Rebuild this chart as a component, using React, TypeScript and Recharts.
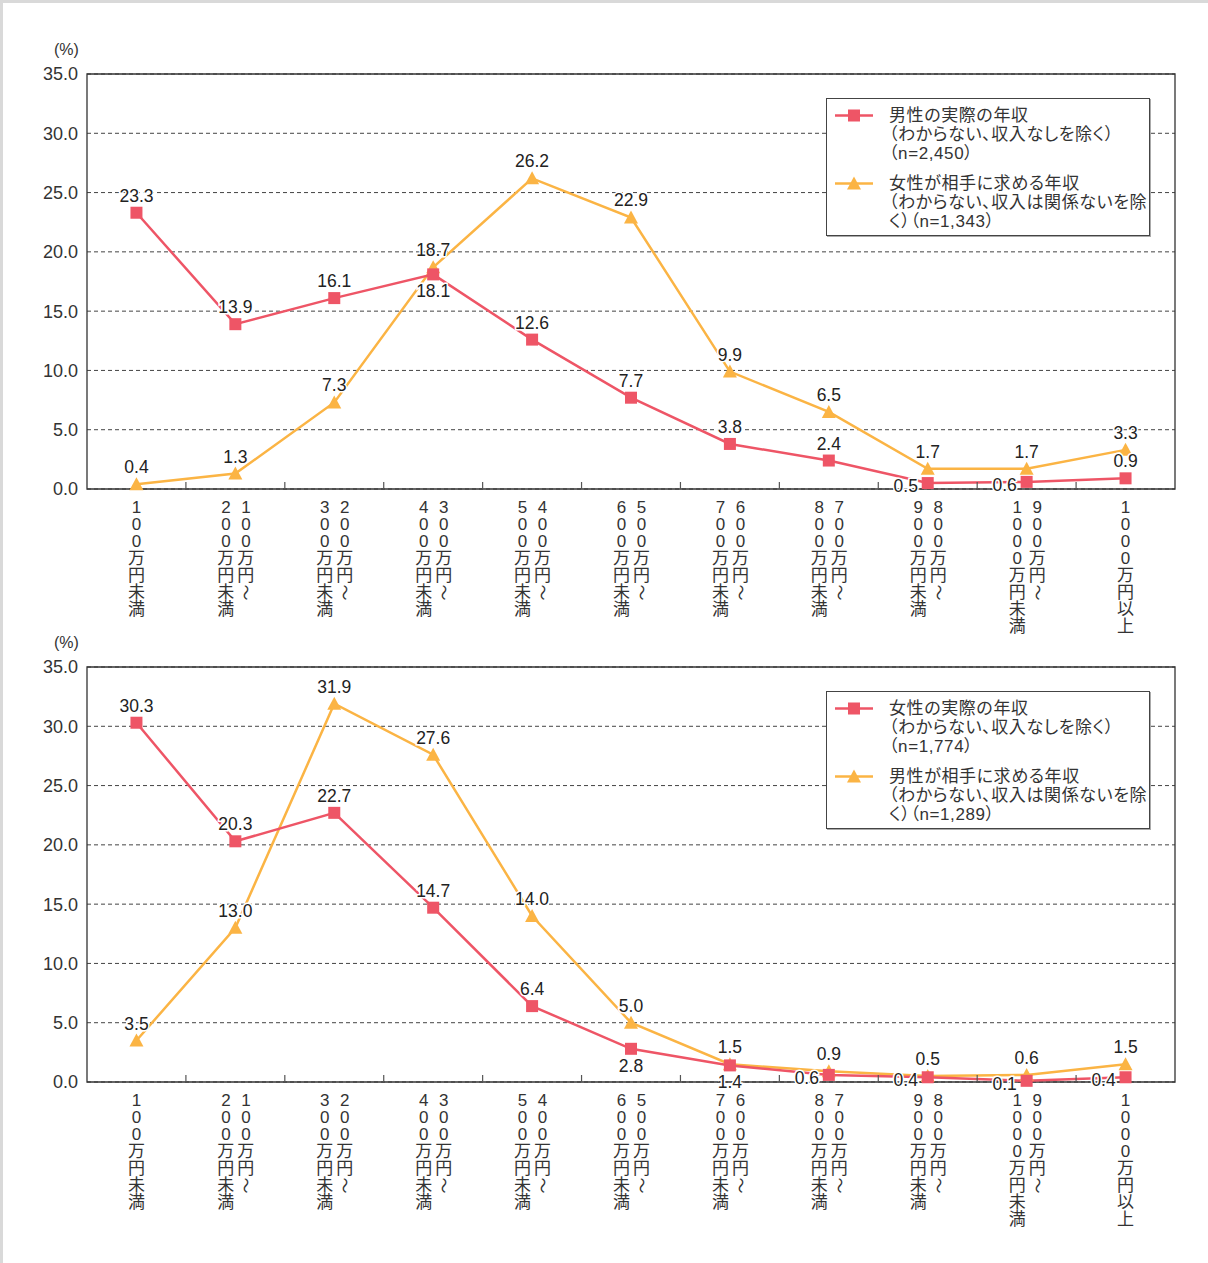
import React from 'react';
import {
  ComposedChart,
  Line,
  XAxis,
  YAxis,
  CartesianGrid,
  ReferenceArea,
  LabelList,
  Legend,
} from 'recharts';

const FONT = "'Liberation Sans', 'Noto Sans CJK JP', sans-serif";
const RED = '#EE5566';
const ORANGE = '#FBB444';

const categories = [
  '100万円未満',
  '100万円～200万円未満',
  '200万円～300万円未満',
  '300万円～400万円未満',
  '400万円～500万円未満',
  '500万円～600万円未満',
  '600万円～700万円未満',
  '700万円～800万円未満',
  '800万円～900万円未満',
  '900万円～1000万円未満',
  '1000万円以上',
];

const yTicks = [0, 5, 10, 15, 20, 25, 30, 35];

// Top chart
const maleActual = [23.3, 13.9, 16.1, 18.1, 12.6, 7.7, 3.8, 2.4, 0.5, 0.6, 0.9];
const femaleWanted = [0.4, 1.3, 7.3, 18.7, 26.2, 22.9, 9.9, 6.5, 1.7, 1.7, 3.3];
// Bottom chart
const femaleActual = [30.3, 20.3, 22.7, 14.7, 6.4, 2.8, 1.4, 0.6, 0.4, 0.1, 0.4];
const maleWanted = [3.5, 13.0, 31.9, 27.6, 14.0, 5.0, 1.5, 0.9, 0.5, 0.6, 1.5];

// label placement: a = above, b = below, l = left
const topRedPlace = ['a', 'a', 'a', 'b', 'a', 'a', 'a', 'a', 'l', 'l', 'a'];
const topOrangePlace = ['a', 'a', 'a', 'a', 'a', 'a', 'a', 'a', 'a', 'a', 'a'];
const bottomRedPlace = ['a', 'a', 'a', 'a', 'a', 'b', 'b', 'l', 'l', 'l', 'l'];
const bottomOrangePlace = ['a', 'a', 'a', 'a', 'a', 'a', 'a', 'a', 'a', 'a', 'a'];

const topLegendRed = ['男性の実際の年収', '（わからない、収入なしを除く）', '（n=2,450）'];
const topLegendOrange = ['女性が相手に求める年収', '（わからない、収入は関係ないを除', 'く）（n=1,343）'];
const bottomLegendRed = ['女性の実際の年収', '（わからない、収入なしを除く）', '（n=1,774）'];
const bottomLegendOrange = ['男性が相手に求める年収', '（わからない、収入は関係ないを除', 'く）（n=1,289）'];

const buildRows = (red: number[], orange: number[]) =>
  categories.map((c, i) => ({ cat: c, red: red[i], orange: orange[i] }));

const Column = ({ text, x, y }: { text: string; x: number; y: number }) => (
  <g>
    {Array.from(text).map((ch, i) => {
      const cy = y + 18 + i * 17.1;
      if (ch === '～') {
        return (
          <text
            key={i}
            x={x}
            y={cy}
            textAnchor="middle"
            dominantBaseline="central"
            transform={`rotate(90 ${x} ${cy})`}
            fontSize={16}
            fontFamily={FONT}
            fill="#333"
          >
            {ch}
          </text>
        );
      }
      return (
        <text
          key={i}
          x={x}
          y={cy}
          textAnchor="middle"
          dominantBaseline="central"
          fontSize={17}
          fontFamily={FONT}
          fill="#333"
        >
          {ch}
        </text>
      );
    })}
  </g>
);

const XTick = (props: any) => {
  const { x, y, payload, index } = props;
  const label: string = String(payload.value);
  const half = payload.offset || 0;
  const parts = label.split('～');
  return (
    <g>
      {index < categories.length - 1 && half > 0 ? (
        <line x1={x + half} x2={x + half} y1={y - 7} y2={y} stroke="#555" strokeWidth={1.2} />
      ) : null}
      {parts.length > 1 ? (
        <>
          <Column text={parts[0] + '～'} x={x + 10.5} y={y} />
          <Column text={parts[1]} x={x - 9.5} y={y} />
        </>
      ) : (
        <Column text={label} x={x} y={y} />
      )}
    </g>
  );
};

const makeLabel = (place: string[]) => (props: any) => {
  const vb = props.viewBox || {};
  const x = props.x ?? vb.x;
  const y = props.y ?? vb.y;
  const idx = props.index;
  if (x == null || y == null || props.value == null) return null;
  const p = place[idx] || 'a';
  let tx = x;
  let ty = y - 17;
  if (p === 'b') ty = y + 17;
  if (p === 'l') {
    tx = x - 22;
    ty = y + 3;
  }
  return (
    <text
      key={`lbl-${idx}`}
      x={tx}
      y={ty}
      textAnchor="middle"
      dominantBaseline="central"
      fontSize={17.5}
      fontFamily={FONT}
      fill="#222"
      stroke="#fff"
      strokeWidth={3}
      paintOrder="stroke"
    >
      {Number(props.value).toFixed(1)}
    </text>
  );
};

const squareDot = (props: any) => {
  const { cx, cy, index } = props;
  if (cx == null || cy == null) return <g key={`sq-${index}`} />;
  return <rect key={`sq-${index}`} x={cx - 6} y={cy - 6} width={12} height={12} fill={RED} />;
};

const triangleDot = (props: any) => {
  const { cx, cy, index } = props;
  if (cx == null || cy == null) return <g key={`tr-${index}`} />;
  return (
    <polygon
      key={`tr-${index}`}
      points={`${cx},${cy - 7} ${cx - 7},${cy + 6} ${cx + 7},${cy + 6}`}
      fill={ORANGE}
    />
  );
};

const LegendIcon = ({ kind }: { kind: 'sq' | 'tr' }) => (
  <svg width={38} height={19} style={{ display: 'block' }}>
    <line x1={0} x2={38} y1={9.5} y2={9.5} stroke={kind === 'sq' ? RED : ORANGE} strokeWidth={2.5} />
    {kind === 'sq' ? (
      <rect x={13} y={3.5} width={12} height={12} fill={RED} />
    ) : (
      <polygon points="19,2.5 12,15.5 26,15.5" fill={ORANGE} />
    )}
  </svg>
);

const LegendBox = ({ redLines, orangeLines }: { redLines: string[]; orangeLines: string[] }) => {
  const items = [
    { kind: 'sq' as const, lines: redLines },
    { kind: 'tr' as const, lines: orangeLines },
  ];
  return (
    <div
      style={{
        width: 324,
        height: 138,
        boxSizing: 'border-box',
        border: '1px solid #444',
        boxShadow: '1px 1px 0 #aaa',
        background: '#fff',
        fontFamily: FONT,
        fontSize: 17,
        fontFeatureSettings: '"palt"',
        letterSpacing: '0.6px',
        color: '#333',
        position: 'relative',
      }}
    >
      {items.map((it, i) => (
        <div key={i} style={{ position: 'absolute', left: 8, top: 7 + i * 68, display: 'flex' }}>
          <LegendIcon kind={it.kind} />
          <div style={{ marginLeft: 16, lineHeight: '19px', whiteSpace: 'nowrap' }}>
            {it.lines.map((l, j) => (
              <div key={j}>{l}</div>
            ))}
          </div>
        </div>
      ))}
    </div>
  );
};

const IncomeChart = ({
  red,
  orange,
  redPlace,
  orangePlace,
  redLegend,
  orangeLegend,
}: {
  red: number[];
  orange: number[];
  redPlace: string[];
  orangePlace: string[];
  redLegend: string[];
  orangeLegend: string[];
}) => {
  const rows = buildRows(red, orange);
  return (
    <div style={{ position: 'relative', width: 1208, height: 640 }}>
      <div
        style={{
          position: 'absolute',
          left: 54,
          top: 41,
          fontFamily: FONT,
          fontSize: 16,
          lineHeight: '18px',
          color: '#333',
          zIndex: 2,
        }}
      >
        (%)
      </div>
      <ComposedChart
        width={1208}
        height={640}
        data={rows}
        margin={{ top: 74, right: 33, bottom: 0, left: 0 }}
      >
        <CartesianGrid vertical={false} stroke="#444" strokeDasharray="4 3" strokeWidth={1} />
        <XAxis
          dataKey="cat"
          scale="band"
          height={151}
          interval={0}
          tickLine={false}
          axisLine={false}
          tickSize={0}
          tickMargin={0}
          tick={(p: any) => <XTick {...p} />}
        />
        <YAxis
          domain={[0, 35]}
          ticks={yTicks}
          interval={0}
          width={87}
          tickLine={false}
          axisLine={false}
          tickSize={0}
          tickMargin={9}
          tickFormatter={(v: number) => v.toFixed(1)}
          tick={{ fill: '#333', fontSize: 18, fontFamily: FONT }}
        />
        <ReferenceArea y1={0} y2={35} fill="none" stroke="#333" strokeWidth={1.3} ifOverflow="visible" />
        <Legend
          layout="vertical"
          align="center"
          verticalAlign="middle"
          wrapperStyle={{ left: 826, top: 98, width: 324, height: 138 }}
          content={() => <LegendBox redLines={redLegend} orangeLines={orangeLegend} />}
        />
        <Line
          type="linear"
          dataKey="orange"
          stroke={ORANGE}
          strokeWidth={2.5}
          dot={triangleDot}
          activeDot={false}
          isAnimationActive={false}
        >
          <LabelList dataKey="orange" content={makeLabel(orangePlace)} />
        </Line>
        <Line
          type="linear"
          dataKey="red"
          stroke={RED}
          strokeWidth={2.5}
          dot={squareDot}
          activeDot={false}
          isAnimationActive={false}
        >
          <LabelList dataKey="red" content={makeLabel(redPlace)} />
        </Line>
      </ComposedChart>
    </div>
  );
};

export default function App() {
  return (
    <div
      style={{
        position: 'absolute',
        left: 0,
        top: 0,
        width: 1208,
        height: 1263,
        background: '#fff',
        overflow: 'hidden',
      }}
    >
      <div style={{ position: 'absolute', left: 0, top: 0, width: 1208, height: 3, background: '#d9d9d9' }} />
      <div style={{ position: 'absolute', left: 0, top: 0, width: 3, height: 1263, background: '#d9d9d9' }} />
      <div style={{ position: 'absolute', left: 0, top: 0 }}>
        <IncomeChart
          red={maleActual}
          orange={femaleWanted}
          redPlace={topRedPlace}
          orangePlace={topOrangePlace}
          redLegend={topLegendRed}
          orangeLegend={topLegendOrange}
        />
      </div>
      <div style={{ position: 'absolute', left: 0, top: 593 }}>
        <IncomeChart
          red={femaleActual}
          orange={maleWanted}
          redPlace={bottomRedPlace}
          orangePlace={bottomOrangePlace}
          redLegend={bottomLegendRed}
          orangeLegend={bottomLegendOrange}
        />
      </div>
    </div>
  );
}
